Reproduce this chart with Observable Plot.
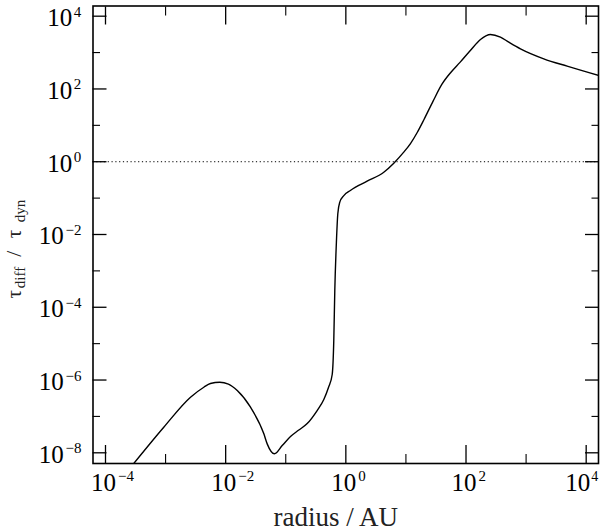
<!DOCTYPE html>
<html>
<head>
<meta charset="utf-8">
<script src="https://cdn.jsdelivr.net/npm/d3@7"></script>
<script src="https://cdn.jsdelivr.net/npm/@observablehq/plot@0.6"></script>
<style>
  html, body { margin: 0; padding: 0; background: white; }
</style>
</head>
<body>
<div id="chart"></div>
<script>
// radius in AU
const radius = [
  2.75e-4, 9.33e-4, 2.60e-3, 4.33e-3, 5.58e-3, 7.98e-3, 1.11e-2, 1.56e-2,
  2.59e-2, 4.32e-2, 4.91e-2, 6.49e-2, 8.73e-2, 0.120, 0.165, 0.2275,
  0.333, 0.430, 0.514, 0.593, 0.630, 0.655, 0.698, 0.735, 0.793, 0.925,
  1.19, 2.26, 4.28, 6.28, 9.20, 11.9, 15.5, 20.0, 28.2, 39.8,
  56.2, 79.4, 117, 174, 214, 255, 374, 515, 805, 1970, 4820, 16200
];
// tau_diff / tau_dyn
const ratio = [
  4.4e-9, 5.05e-8, 3.37e-7, 6.34e-7, 8.02e-7, 8.69e-7, 7.76e-7, 5.14e-7,
  1.79e-7, 3.32e-8, 1.76e-8, 9.4e-9, 1.58e-8, 2.80e-8, 4.23e-8, 6.37e-8,
  1.45e-7, 2.91e-7, 6.22e-7, 1.42e-6, 1.23e-5, 2.88e-4, 6.76e-3, 3.72e-2, 7.76e-2, 0.117,
  0.162, 0.292, 0.515, 0.912, 1.83, 3.16, 6.46, 14.5, 45.7, 135,
  288, 537, 1120, 2290, 2880, 3140, 2650, 1930, 1270, 675, 423, 234
];
const referenceLevel = [1];

const xMajorExp = [-4, -2, 0, 2, 4];
const xMinorExp = [-3, -1, 1, 3];
const yMajorExp = [-8, -6, -4, -2, 0, 2, 4];
const yMinorExp = [-7, -5, -3, -1, 1, 3];

const xLabel = "radius / AU";
const yLabelParts = ["τ", "diff", "/", "τ", "dyn"];

const curve = radius.map((r, i) => ({r, tau: ratio[i]}));
const pow = e => 10 ** e;
const expText = e => (e < 0 ? "\u2212" + (-e) : String(e));

const xMajor = xMajorExp.map(pow), xMinor = xMinorExp.map(pow);
const yMajor = yMajorExp.map(pow), yMinor = yMinorExp.map(pow);
const xInnerExp = xMajorExp.slice(0, -1);
const xLastExp = xMajorExp.slice(-1);
const yPosExp = yMajorExp.filter(e => e >= 0);
const yNegExp = yMajorExp.filter(e => e < 0);

const serif = "Liberation Serif";

const plot = Plot.plot({
  width: 600,
  height: 532,
  marginLeft: 92.5,
  marginRight: 2,
  marginTop: 5.5,
  marginBottom: 69,
  style: {fontFamily: serif, background: "white", color: "black"},
  x: {type: "log", domain: [10 ** -4.208, 10 ** 4.205]},
  y: {type: "log", domain: [10 ** -8.294, 10 ** 4.28]},
  marks: [
    // reference level
    Plot.ruleY(referenceLevel, {stroke: "black", strokeWidth: 1, strokeDasharray: "1.2,2.6"}),
    // curve
    Plot.line(curve, {x: "r", y: "tau", curve: "monotone-x", stroke: "black", strokeWidth: 1.4, clip: true}),
    // ticks (inward, all four sides)
    Plot.axisX(xMajor, {anchor: "bottom", tickSize: -18, fill: "none", label: null, strokeWidth: 1.3}),
    Plot.axisX(xMinor, {anchor: "bottom", tickSize: -9, fill: "none", label: null, strokeWidth: 1.1}),
    Plot.axisX(xMajor, {anchor: "top", tickSize: -18, fill: "none", label: null, strokeWidth: 1.3}),
    Plot.axisX(xMinor, {anchor: "top", tickSize: -9, fill: "none", label: null, strokeWidth: 1.1}),
    Plot.axisY(yMajor, {anchor: "left", tickSize: -14, fill: "none", label: null, strokeWidth: 1.3}),
    Plot.axisY(yMinor, {anchor: "left", tickSize: -7.5, fill: "none", label: null, strokeWidth: 1.1}),
    Plot.axisY(yMajor, {anchor: "right", tickSize: -14, fill: "none", label: null, strokeWidth: 1.3}),
    Plot.axisY(yMinor, {anchor: "right", tickSize: -7.5, fill: "none", label: null, strokeWidth: 1.1}),
    // x tick labels
    Plot.text(xInnerExp, {x: pow, frameAnchor: "bottom", text: () => "10", textAnchor: "middle",
      lineAnchor: "bottom", dx: -2, dy: 27.5, fontSize: 25, fill: "black"}),
    Plot.text(xInnerExp, {x: pow, frameAnchor: "bottom", text: expText, textAnchor: "start",
      lineAnchor: "bottom", dx: 12.5, dy: 17.5, fontSize: 15, fill: "black"}),
    Plot.text(xLastExp, {x: pow, frameAnchor: "bottom", text: () => "10", textAnchor: "middle",
      lineAnchor: "bottom", dx: -8.5, dy: 27.5, fontSize: 25, fill: "black"}),
    Plot.text(xLastExp, {x: pow, frameAnchor: "bottom", text: expText, textAnchor: "start",
      lineAnchor: "bottom", dx: 5, dy: 17.5, fontSize: 14, fill: "black"}),
    // y tick labels (positive exponents)
    Plot.text(yPosExp, {y: pow, frameAnchor: "left", text: () => "10", textAnchor: "end",
      lineAnchor: "bottom", dx: -20.8, dy: 10, fontSize: 25, fill: "black"}),
    Plot.text(yPosExp, {y: pow, frameAnchor: "left", text: expText, textAnchor: "start",
      lineAnchor: "bottom", dx: -19.2, dy: 0.5, fontSize: 15, fill: "black"}),
    // y tick labels (negative exponents)
    Plot.text(yNegExp, {y: pow, frameAnchor: "left", text: () => "10", textAnchor: "end",
      lineAnchor: "bottom", dx: -29.2, dy: 10, fontSize: 25, fill: "black"}),
    Plot.text(yNegExp, {y: pow, frameAnchor: "left", text: expText, textAnchor: "start",
      lineAnchor: "bottom", dx: -27.5, dy: 0.5, fontSize: 15, fill: "black"}),
    // x label
    Plot.text([xLabel], {frameAnchor: "bottom", textAnchor: "middle", lineAnchor: "bottom",
      dx: -10, dy: 62, fontSize: 27, fill: "#222"}),
    // y label pieces (rotated)
    Plot.text([yLabelParts[0]], {frameAnchor: "left", rotate: -90, textAnchor: "start", lineAnchor: "bottom",
      dx: -72.5, dy: 63.75, fontSize: 21, fill: "#222"}),
    Plot.text([yLabelParts[1]], {frameAnchor: "left", rotate: -90, textAnchor: "start", lineAnchor: "bottom",
      dx: -68, dy: 53.5, fontSize: 15, fill: "#222"}),
    Plot.text([yLabelParts[2]], {frameAnchor: "left", rotate: -90, textAnchor: "start", lineAnchor: "bottom",
      dx: -72, dy: 22, fontSize: 22, fill: "#222"}),
    Plot.text([yLabelParts[3]], {frameAnchor: "left", rotate: -90, textAnchor: "start", lineAnchor: "bottom",
      dx: -72.5, dy: 3.5, fontSize: 21, fill: "#222"}),
    Plot.text([yLabelParts[4]], {frameAnchor: "left", rotate: -90, textAnchor: "start", lineAnchor: "bottom",
      dx: -68, dy: -12.5, fontSize: 15, fill: "#222"}),
    // frame
    Plot.frame({stroke: "black", strokeWidth: 1.6})
  ]
});

document.getElementById("chart").appendChild(plot);
</script>
</body>
</html>
